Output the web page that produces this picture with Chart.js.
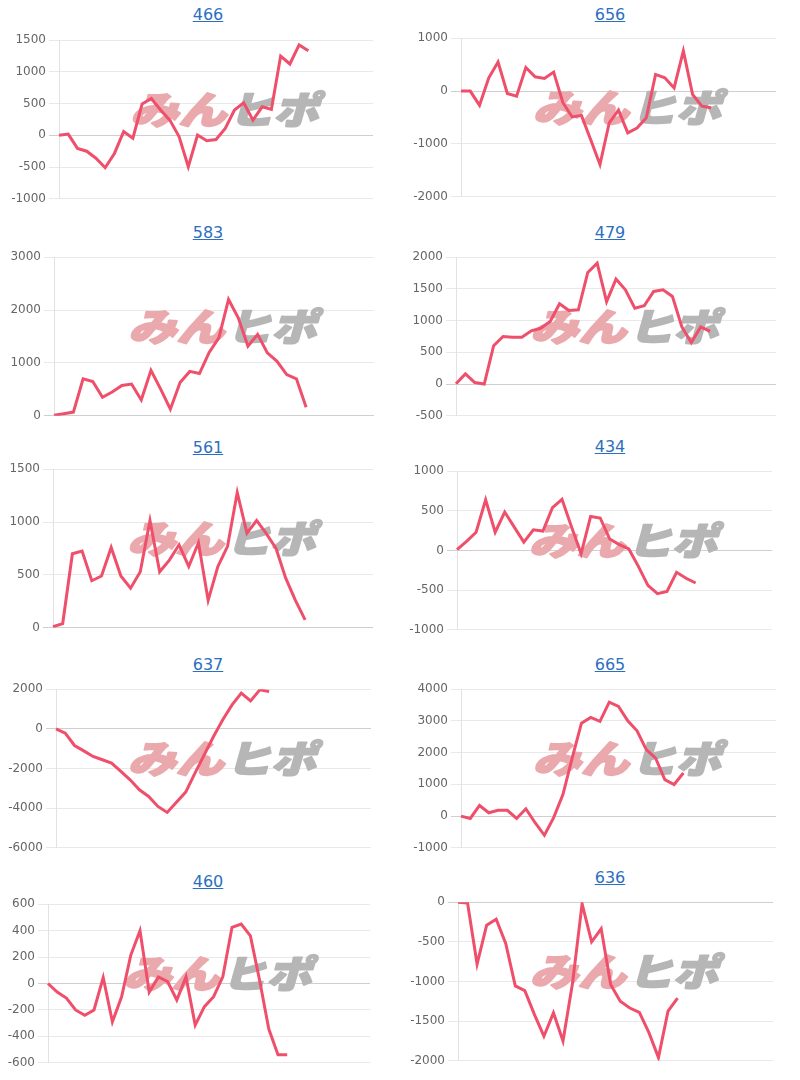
<!DOCTYPE html>
<html>
<head>
<meta charset="utf-8">
<script src="https://cdn.jsdelivr.net/npm/chart.js@4.4.1/dist/chart.umd.min.js"></script>
<style>
  body { margin: 0; background: #fff; width: 800px; height: 1080px; position: relative; overflow: hidden; font-family: "DejaVu Sans", sans-serif; }
  .title { position: absolute; width: 120px; text-align: center; font-size: 16px; line-height: 20px; color: #2c6fc0; text-decoration: underline; }
  canvas { position: absolute; }
</style>
</head>
<body>
<div id="wrap"></div>
<script>
// machine numbers shown above each chart
const titles = ["466", "656", "583", "479", "561", "434", "637", "665", "460", "636"];

// number of x categories on each chart
const slotCounts = [35, 35, 34, 35, 34, 34, 35, 35, 36, 34];

// y axis ticks: min, max, step
const yMins  = [-1000, -2000, 0, -500, 0, -1000, -6000, -1000, -600, -2000];
const yMaxs  = [1500, 1000, 3000, 2000, 1500, 1000, 2000, 4000, 600, 0];
const ySteps = [500, 1000, 1000, 500, 500, 500, 2000, 1000, 200, 500];

// series values
const s466 = [0, 20, -205, -250, -360, -510, -285, 60, -45, 495, 580, 400, 240, -20, -495, 5, -85, -65, 110, 400, 515, 240, 450, 410, 1250, 1125, 1425, 1335];
const s656 = [0, 0, -270, 250, 550, -45, -95, 445, 270, 240, 360, -220, -490, -460, -920, -1390, -600, -360, -790, -700, -505, 315, 250, 60, 760, -65, -285, -315];
const s583 = [10, 40, 70, 700, 650, 350, 450, 575, 600, 300, 860, 505, 125, 630, 840, 800, 1200, 1475, 2200, 1855, 1315, 1540, 1190, 1030, 780, 700, 160];
const s479 = [5, 160, 25, 0, 605, 750, 740, 740, 840, 880, 985, 1265, 1160, 1170, 1760, 1905, 1300, 1655, 1485, 1195, 1235, 1460, 1485, 1380, 900, 655, 900, 830];
const s561 = [10, 40, 700, 725, 445, 490, 760, 490, 375, 530, 1015, 530, 640, 785, 580, 805, 260, 580, 770, 1280, 895, 1015, 890, 750, 470, 260, 75];
const s434 = [10, 115, 230, 640, 230, 485, 295, 105, 260, 245, 540, 645, 295, -40, 430, 410, 145, 75, 20, -200, -440, -545, -515, -275, -350, -410];
const s637 = [0, -220, -840, -1110, -1395, -1560, -1730, -2150, -2570, -3075, -3410, -3915, -4215, -3700, -3190, -2235, -1310, -385, 455, 1210, 1800, 1410, 1965, 1880];
const s665 = [0, -75, 335, 105, 180, 180, -75, 230, -210, -605, -50, 680, 1830, 2930, 3110, 2985, 3590, 3455, 3005, 2690, 2095, 1830, 1150, 995, 1360];
const s460 = [0, -65, -110, -200, -240, -200, 45, -290, -100, 215, 400, -65, 50, 15, -125, 50, -315, -175, -100, 50, 425, 450, 360, 25, -345, -540, -540];
const s636 = [0, -10, -780, -290, -215, -520, -1055, -1115, -1415, -1690, -1395, -1750, -1020, -20, -500, -335, -1040, -1250, -1335, -1390, -1645, -1960, -1375, -1210];

const series = [s466, s656, s583, s479, s561, s434, s637, s665, s460, s636];

// page layout (pixels)
const plotTops   = [40, 38, 257, 257, 469, 471, 689, 689, 904, 902];
const plotLefts  = [59, 461, 54, 456, 53, 457, 56, 461, 48, 458];
const plotRights = [373, 776, 374, 776, 373, 772, 371, 776, 370, 773];
const titleYs    = [15, 15, 233, 233, 448, 447, 665, 665, 882, 878];
const PLOT_H = 159;

const logo = {
    id: 'logo',
    beforeDatasetsDraw(chart) {
        const { ctx, chartArea: a } = chart;
        const cx = (a.left + a.right) / 2 + 13;
        const cy = (a.top + a.bottom) / 2 - 12;
        ctx.save();
        ctx.font = '900 38px "Noto Sans CJK JP"';
        ctx.textBaseline = 'middle';
        ctx.lineJoin = 'round';
        ctx.lineWidth = 2;
        ctx.translate(cx, cy);
        ctx.transform(1, 0, -0.28, 1, 0, 0);
        const w1 = ctx.measureText('みん').width;
        const w2 = ctx.measureText('ヒポ').width;
        ctx.save();
        ctx.translate(-94, 2);
        ctx.scale(96 / w1, 1);
        ctx.fillStyle = ctx.strokeStyle = '#eaa9ad';
        ctx.fillText('みん', 0, 0);
        ctx.strokeText('みん', 0, 0);
        ctx.restore();
        ctx.save();
        ctx.translate(4, 2);
        ctx.scale(90 / w2, 1);
        ctx.fillStyle = ctx.strokeStyle = '#b6b6b6';
        ctx.fillText('ヒポ', 0, 0);
        ctx.strokeText('ヒポ', 0, 0);
        ctx.restore();
        ctx.restore();
    }
};

const wrap = document.getElementById('wrap');

series.forEach((data, i) => {
    const col = i % 2;
    const left = col === 0 ? 0 : 400;

    const t = document.createElement('div');
    t.className = 'title';
    t.textContent = titles[i];
    t.style.left = ((col === 0 ? 208 : 610) - 60) + 'px';
    t.style.top = (titleYs[i] - 10) + 'px';
    wrap.appendChild(t);

    const cv = document.createElement('canvas');
    cv.width = plotRights[i] - left;
    cv.height = PLOT_H + 20;
    cv.style.left = left + 'px';
    cv.style.top = (plotTops[i] - 10) + 'px';
    wrap.appendChild(cv);

    const labels = Array.from({ length: slotCounts[i] }, (_, k) => k + 1);
    const axisW = plotLefts[i] - left;

    new Chart(cv, {
        type: 'line',
        data: {
            labels: labels,
            datasets: [{
                data: data,
                borderColor: '#ef4f6a',
                borderWidth: 3,
                pointRadius: 0,
                tension: 0,
                fill: false
            }]
        },
        options: {
            responsive: false,
            animation: false,
            layout: { padding: 0 },
            plugins: { legend: { display: false }, tooltip: { enabled: false } },
            scales: {
                x: { display: false },
                y: {
                    min: yMins[i],
                    max: yMaxs[i],
                    afterFit: s => { s.width = axisW; },
                    ticks: {
                        stepSize: ySteps[i],
                        padding: 3,
                        color: '#666',
                        font: { family: 'DejaVu Sans', size: 12 },
                        callback: v => String(v)
                    },
                    grid: {
                        drawTicks: true,
                        tickLength: 10,
                        color: c => (c.tick && c.tick.value === 0) ? '#cfcfcf' : '#e9e9e9'
                    },
                    border: { color: '#e2e2e2' }
                }
            }
        },
        plugins: [logo]
    });
});
</script>
</body>
</html>
